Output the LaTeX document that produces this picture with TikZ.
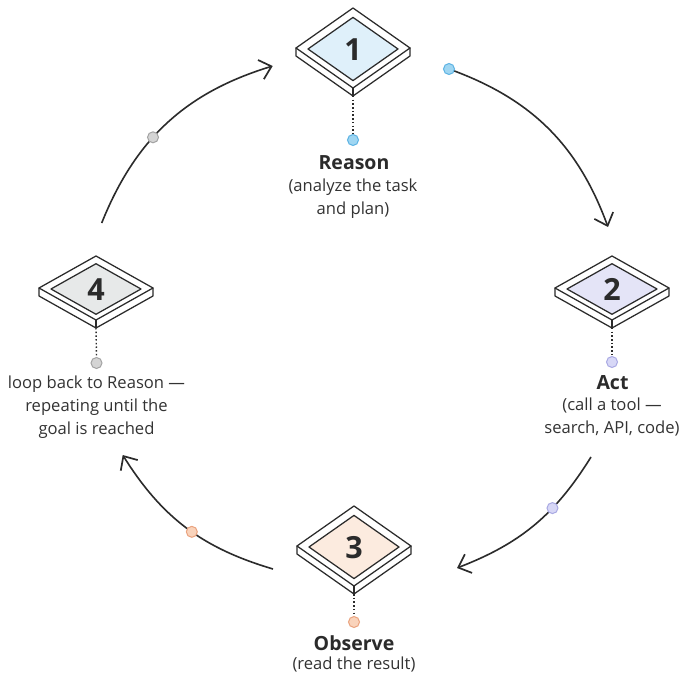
\documentclass[tikz,border=0pt]{standalone}
\usepackage{fontspec}
\setmainfont{Open Sans}
\usetikzlibrary{arrows.meta,calc}
\definecolor{ink}{HTML}{2B2B2B}
\definecolor{txt}{HTML}{333333}
\definecolor{faceA}{HTML}{DFF0FA}
\definecolor{faceB}{HTML}{E4E4F7}
\definecolor{faceC}{HTML}{FCEBDF}
\definecolor{faceD}{HTML}{E7E9E9}
\definecolor{dotAf}{HTML}{9FD6F2}\definecolor{dotAd}{HTML}{5DB3E3}
\definecolor{dotBf}{HTML}{D7D7F6}\definecolor{dotBd}{HTML}{A9A9E3}
\definecolor{dotCf}{HTML}{F9D3BB}\definecolor{dotCd}{HTML}{EAA37F}
\definecolor{dotDf}{HTML}{D4D4D4}\definecolor{dotDd}{HTML}{A3A3A3}
\newcommand{\isobox}[5]{% name, center, half height, face colour, number
  \coordinate (#1) at #2;
  \begin{scope}[shift={(#1)}]
    \draw[boxline,fill=white] (-57,0) -- (-57,-8) -- (0,-#3-8) -- (57,-8) -- (57,0) -- cycle;
    \draw[boxline] (0,-#3) -- (0,-#3-8);
    \draw[boxline,fill=white] (0,#3) -- (57,0) -- (0,-#3) -- (-57,0) -- cycle;
    \draw[boxline,fill=#4] (0,0.79*#3-1) -- (45,-1) -- (0,-0.79*#3-1) -- (-45,-1) -- cycle;
    \node[numtext] (#1-num) at (0,-1.5) {#5};
    \coordinate (#1-bot) at (0,-#3-8);
  \end{scope}
}
\tikzset{
  boxline/.style={draw=ink,line width=1.25pt,line join=round},
  numtext/.style={font=\fontsize{30.5}{30}\selectfont\bfseries,text=ink,inner sep=0pt},
  flow/.style={draw=ink,line width=1.6pt,-{Straight Barb[length=11pt,width=20pt,line width=1.7pt]}},
  dotline/.style={draw=ink,line width=1.4pt,dash pattern=on 1.5pt off 2.2pt},
  pin/.style={circle,minimum size=11pt,inner sep=0pt,line width=1pt},
  title/.style={font=\fontsize{19.5}{22}\selectfont\bfseries,text=ink,inner sep=0pt},
  body/.style={font=\fontsize{16.6}{23}\selectfont,text=txt,inner sep=0pt,align=center},
}
\begin{document}
\begin{tikzpicture}[x=1pt,y=1pt]
\useasboundingbox[fill=white] (0,0) rectangle (683,-676);
% boxes
\isobox{b1}{(353,-48)}{40}{faceA}{1}
\isobox{b2}{(612,-288)}{32}{faceB}{2}
\isobox{b3}{(354,-546)}{40}{faceC}{3}
\isobox{b4}{(96,-288)}{32}{faceD}{4}
% pins
\node[pin,draw=dotAd,fill=dotAf] (d1) at (353,-140) {};
\node[pin,draw=dotBd,fill=dotBf] (d2) at (612,-362) {};
\node[pin,draw=dotCd,fill=dotCf] (d3) at (354,-622) {};
\node[pin,draw=dotDd,fill=dotDf] (d4) at (96.5,-363) {};
\draw[dotline] (b1-bot) -- (d1.north);
\draw[dotline] (b2-bot) -- (d2.north);
\draw[dotline] (b3-bot) -- (d3.north);
\draw[dotline] (b4-bot) -- (d4.north);
% labels
\node[title] (t1) at (354,-163) {Reason};
\node[body] (s1) at (353,-198.5) {(analyze the task\\and plan)};
\node[title] (t2) at (612.5,-382.5) {Act};
\node[body] (s2) at (612,-417) {(call a tool —\\search, API, code)};
\node[body] (s4) at (96.5,-407) {loop back to Reason —\\repeating until the\\goal is reached};
\node[title] (t3) at (354,-643) {Observe};
\node[body] (s3) at (354,-665) {(read the result)};
% arcs
\coordinate (a1s) at (449,-69);   \coordinate (a1e) at (608,-227);
\coordinate (a2s) at (591,-457);  \coordinate (a2e) at (457,-568);
\coordinate (a3s) at (273,-569);  \coordinate (a3e) at (122.7,-455);
\coordinate (a4s) at (101.7,-223);\coordinate (a4e) at (272.7,-66);
\draw[flow] (a1s) to[bend left=25] (a1e);
\draw[flow] (a2s) to[bend left=18.5] node[pos=0.35,pin,draw=dotBd,fill=dotBf] (p2) {} (a2e);
\draw[flow] (a3s) to[bend left=20.7] node[pos=0.46,pin,draw=dotCd,fill=dotCf] (p3) {} (a3e);
\draw[flow] (a4s) to[bend left=25.6] node[pos=0.41,pin,draw=dotDd,fill=dotDf] (p4) {} (a4e);
\node[pin,draw=dotAd,fill=dotAf] (p1) at (a1s) {};
\end{tikzpicture}
\end{document}
